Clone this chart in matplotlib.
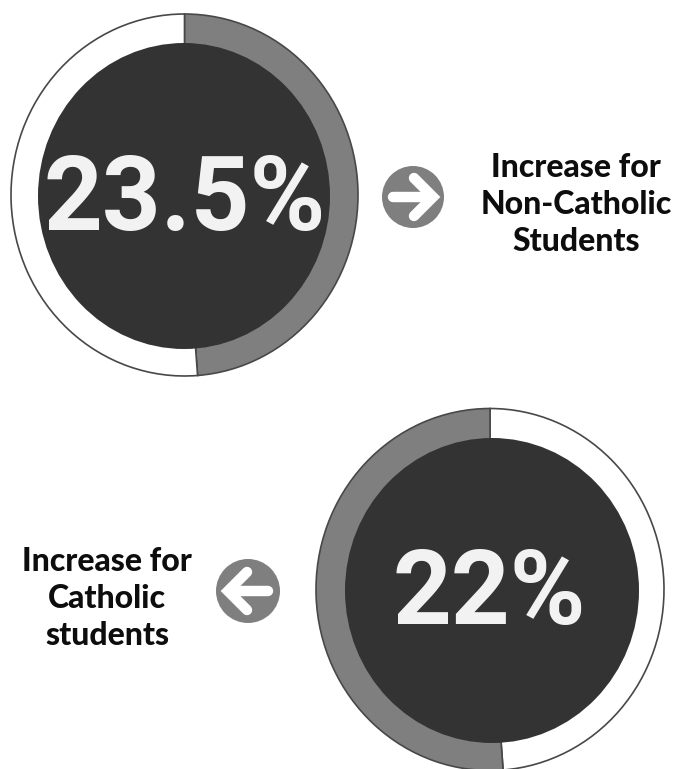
import matplotlib
matplotlib.use('Agg')
import matplotlib.pyplot as plt
from matplotlib.patches import Circle, Ellipse

W, H = 680, 769

# share of each ring drawn in grey / left white
ring_labels = ['23.5%', '22%']
grey_shares = [48.8, 51.2]
white_shares = [51.2, 48.8]
captions = [['Increase for', 'Non-Catholic', 'Students'],
            ['Increase for', 'Catholic', 'students']]

GREY = '#7f7f7f'
DARK = '#333333'
LIGHT = '#f2f2f2'
EDGE = '#484848'


def ring(fig, cx, cy, rx, ry, shares, colors):
    # axes a little larger than the ring so the outline is not clipped
    pad = 1.02
    ax = fig.add_axes([(cx - rx * pad) / W, 1 - (cy + ry * pad) / H,
                       2 * rx * pad / W, 2 * ry * pad / H])
    ax.pie(shares, colors=colors, startangle=90, counterclock=False, radius=1,
           wedgeprops=dict(edgecolor=EDGE, linewidth=1.2))
    ax.set_aspect('auto')
    ax.set_xlim(-pad, pad)
    ax.set_ylim(-pad, pad)
    ax.axis('off')


def arrow(ax, cx, cy, r, direction):
    ax.add_patch(Circle((cx, cy), r, color=GREY, lw=0, zorder=3))
    tip = cx + direction * 20
    tail = cx - direction * 20
    style = dict(color='white', lw=7.5, solid_capstyle='round',
                 solid_joinstyle='miter', zorder=4)
    ax.plot([tail, tip - direction * 2], [cy, cy], **style)
    ax.plot([tip - direction * 19, tip, tip - direction * 19],
            [cy - 19, cy, cy + 19], **style)


fig = plt.figure(figsize=(W / 100, H / 100), dpi=100, facecolor='white')

ring(fig, 184.5, 195, 173.5, 181, [grey_shares[0], white_shares[0]], [GREY, 'white'])
ring(fig, 490, 589.5, 174, 181, [white_shares[1], grey_shares[1]], ['white', GREY])

over = fig.add_axes([0, 0, 1, 1])
over.set_xlim(0, W)
over.set_ylim(H, 0)
over.axis('off')
over.patch.set_alpha(0)

over.add_patch(Ellipse((184, 196), 292, 306, color=DARK, lw=0, zorder=2))
over.add_patch(Ellipse((492, 590.5), 294, 305, color=DARK, lw=0, zorder=2))

over.text(185, 230, ring_labels[0], family='Roboto', weight='bold', size=74,
          color=LIGHT, ha='center', va='baseline', zorder=5)
over.text(489, 624, ring_labels[1], family='Roboto', weight='bold', size=74,
          color=LIGHT, ha='center', va='baseline', zorder=5)

arrow(over, 413, 197, 31, 1)
arrow(over, 248, 591, 32, -1)

for line, y in zip(captions[0], [177, 214, 251]):
    over.text(576, y, line, family='Lato', weight='black', size=23,
              color='#0d0d0d', ha='center', va='baseline')
for line, y in zip(captions[1], [571, 608, 645]):
    over.text(107, y, line, family='Lato', weight='black', size=23,
              color='#0d0d0d', ha='center', va='baseline')

fig.savefig('out.png', dpi=100)
